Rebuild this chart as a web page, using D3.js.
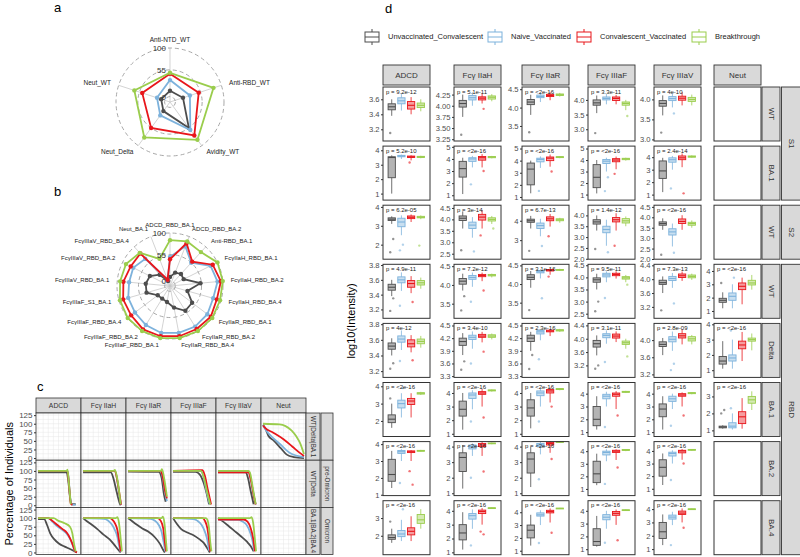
<!DOCTYPE html>
<html>
<head>
<meta charset="utf-8">
<script src="https://cdn.jsdelivr.net/npm/d3@7"></script>
<style>
body { margin: 0; background: #fff; }
svg { display: block; }
</style>
</head>
<body>
<script>
// ---------- data ----------
const groups = ["Unvaccinated_Convalescent", "Naive_Vaccinated", "Convalescent_Vaccinated", "Breakthrough"];
const groupColors = ["#4d4d4d", "#7db2dc", "#e8161b", "#9acd4c"];

// panel a radar
const aAxes = ["Anti-NTD_WT", "Anti-RBD_WT", "Avidity_WT", "Neut_Delta", "Neut_WT"];
const aValues = [
  [12, 17, 55, 12, 8],
  [34, 32, 60, 23, 17],
  [47, 51, 74, 55, 49],
  [49, 83, 85, 79, 66]
];

// panel b radar
const bAxes = ["ADCD_RBD_BA.1", "ADCD_RBD_BA.2", "Anti-RBD_BA.1", "FcγIIaH_RBD_BA.1", "FcγIIaH_RBD_BA.2",
  "FcγIIaH_RBD_BA.4", "FcγIIaR_RBD_BA.1", "FcγIIaR_RBD_BA.2", "FcγIIaR_RBD_BA.4", "FcγIIIaF_RBD_BA.1",
  "FcγIIIaF_RBD_BA.2", "FcγIIIaF_RBD_BA.4", "FcγIIIaF_S1_BA.1", "FcγIIIaV_RBD_BA.1", "FcγIIIaV_RBD_BA.2",
  "FcγIIIaV_RBD_BA.4", "Neut_BA.1"];
const bValues = [
  [8, 19, 23, 21, 53, 27, 47, 50, 35, 23, 20, 21, 40, 40, 36, 21, 0],
  [50, 78, 55, 84, 89, 83, 87, 89, 89, 89, 85, 81, 80, 75, 75, 66, 3],
  [45, 85, 58, 89, 96, 91, 96, 95, 96, 96, 96, 91, 91, 87, 81, 81, 3],
  [85, 89, 85, 100, 100, 98, 100, 100, 100, 100, 100, 100, 98, 94, 92, 83, 50]
];
const radarTicks = [0, 55, 100];

// panel c survival-type curves: [x %, percentage of individuals]
const cCols = ["ADCD", "Fcγ IIaH", "Fcγ IIaR", "Fcγ IIIaF", "Fcγ IIIaV", "Neut"];
const cRows = ["WT|Delta|BA.1", "WT|Delta", "BA.1|BA.2|BA.4"];
const cRowSets = ["", "pre-Omicron", "Omicron"];
const cYTicks = [0, 25, 50, 75, 100, 125];
const cCurves = [
  [null, null, null, null, null, [
    [[0,97],[5,88],[13,65],[25,52],[44,28],[58,10],[75,3],[100,0]],
    [[0,97],[5,85],[15,70],[44,38],[67,14],[100,3]],
    [[0,95],[5,88],[25,74],[50,55],[72,33],[90,15],[100,6]],
    [[0,100],[40,98],[55,93],[70,80],[82,62],[90,45],[100,12]]
  ]],
  [
    [
      [[0,96],[70,96],[74,70],[78,25],[82,3],[92,3]],
      [[0,100],[72,100],[76,60],[80,8],[84,2],[92,2]],
      [[0,100],[72,100],[76,55],[80,5],[84,1]],
      [[0,100],[70,100],[72,104],[75,70],[80,3]]
    ],
    [
      [[0,96],[68,96],[75,75],[82,40],[90,5],[92,0]],
      [[0,100],[78,100],[84,70],[90,20],[93,2]],
      [[0,100],[78,100],[84,70],[90,25],[93,2]],
      [[0,100],[75,100],[78,103],[84,75],[92,3]]
    ],
    [
      [[0,98],[75,97],[82,80],[88,30],[92,10]],
      [[0,100],[78,100],[84,85],[90,40],[95,12]],
      [[0,100],[78,100],[84,88],[90,45],[95,20]],
      [[0,100],[80,100],[83,105],[88,80],[95,25]]
    ],
    [
      [[0,97],[55,97],[65,90],[75,65],[82,35],[88,3]],
      [[0,100],[68,100],[75,80],[82,40],[90,2]],
      [[0,100],[72,102],[78,85],[85,45],[93,2]],
      [[0,100],[68,100],[75,82],[83,40],[91,2]]
    ],
    [
      [[0,96],[68,96],[73,80],[80,40],[87,3]],
      [[0,100],[74,100],[80,75],[87,30],[92,2]],
      [[0,96],[74,96],[80,75],[87,30],[92,2]],
      [[0,100],[74,100],[78,95],[85,50],[92,3]]
    ],
    null
  ],
  [
    [
      [[0,97],[15,97],[22,80],[30,55],[40,38],[50,27],[65,17],[78,10],[90,3],[95,0]],
      [[0,100],[25,100],[35,90],[45,78],[60,65],[70,55],[78,40],[85,20],[90,3]],
      [[0,100],[25,100],[35,92],[45,82],[60,68],[70,58],[78,42],[85,22],[90,5],[95,0]],
      [[0,100],[38,100],[50,92],[65,85],[78,75],[84,55],[88,25],[92,3]]
    ],
    [
      [[0,100],[5,95],[20,82],[35,68],[50,52],[65,38],[78,20],[88,5],[92,0]],
      [[0,100],[50,98],[60,94],[70,82],[78,65],[84,45],[88,20],[92,2]],
      [[0,100],[65,100],[72,95],[78,85],[84,65],[88,35],[92,3]],
      [[0,100],[80,100],[84,103],[88,85],[92,40],[95,3]]
    ],
    [
      [[0,100],[8,93],[20,82],[35,70],[50,60],[65,45],[78,25],[87,5],[90,0]],
      [[0,100],[55,98],[65,93],[75,80],[82,60],[87,30],[91,3]],
      [[0,100],[72,100],[80,92],[86,70],[90,30],[93,3]],
      [[0,100],[82,100],[85,104],[89,85],[93,30],[95,3]]
    ],
    [
      [[0,100],[10,82],[20,68],[35,58],[50,50],[65,38],[75,28],[85,10],[90,0]],
      [[0,100],[50,97],[60,92],[70,80],[78,60],[84,35],[88,5]],
      [[0,100],[72,100],[78,92],[84,70],[88,35],[91,3]],
      [[0,100],[80,100],[84,95],[88,70],[91,30],[94,3]]
    ],
    [
      [[0,100],[10,92],[25,78],[40,63],[55,48],[70,32],[80,18],[87,3]],
      [[0,96],[50,95],[60,90],[70,80],[78,60],[84,35],[88,5]],
      [[0,96],[62,96],[72,90],[80,70],[86,40],[90,3]],
      [[0,100],[78,100],[82,103],[86,85],[90,40],[93,3]]
    ],
    null
  ]
];

// panel d boxplots: [min, q1, median, q3, max] per group
const dCols = ["ADCD", "Fcγ IIaH", "Fcγ IIaR", "Fcγ IIIaF", "Fcγ IIIaV", "Neut"];
const dRows = ["WT", "BA.1", "WT", "WT", "Delta", "BA.1", "BA.2", "BA.4"];
const dSetLabels = ["S1", "S2", "RBD"];
const dSetRows = [[0, 1], [2, 2], [3, 7]];
const dPvals = [
  ["9.2e-12", "5.1e-11", "<2e-16", "3.3e-11", "4e-10", null],
  ["5.2e-10", "<2e-16", "<2e-16", "<2e-16", "2.4e-14", null],
  ["6.2e-05", "3e-14", "6.7e-13", "1.4e-12", "<2e-16", null],
  ["4.9e-11", "7.2e-12", "3.1e-16", "9.5e-11", "7.3e-13", "<2e-16"],
  ["4e-12", "3.4e-10", "2.3e-16", "3.1e-11", "2.8e-09", "<2e-16"],
  ["<2e-16", "<2e-16", "<2e-16", "<2e-16", "<2e-16", "<2e-16"],
  ["<2e-16", "<2e-16", "<2e-16", "<2e-16", "<2e-16", null],
  ["<2e-16", "<2e-16", "<2e-16", "<2e-16", "<2e-16", null]
];
const dDomains = [
  [[3.044,3.764],[3.21,4.42],[3.09,4.56],[2.6,4.44],[2.96,4.31],null],
  [[0.55,4.29],[0.6,5.06],[0.74,5.2],[0.52,5.21],[0.56,4.89],null],
  [[1.23,4.09],[2.26,4.62],[2.02,4.8],[1.98,4.47],[1.99,4.58],null],
  [[3.08,3.81],[3.11,4.55],[3.08,4.53],[2.31,4.54],[2.87,4.43],[0.45,4.5]],
  [[3.12,3.81],[3.27,4.55],[3.27,4.55],[2.84,4.46],[3.13,4.39],[0.53,4.06]],
  [[1.1,4.22],[0.8,4.77],[0.8,4.77],[0.66,4.87],[0.66,4.87],[0.64,3.82]],
  [[0.95,4.15],[0.85,4.32],[0.85,4.32],[0.47,4.76],[0.46,4.74],null],
  [[0.93,3.98],[0.83,4.73],[0.69,4.9],[0.57,4.79],[0.58,4.63],null]
];
const dTicks = [
  [[3.2,3.4,3.6],[3.25,3.5,3.75,4.0,4.25],[3.5,4.0,4.5],[3.0,3.5,4.0],[3.0,3.5,4.0],null],
  [[1,2,3,4],[1,2,3,4,5],[1,2,3,4,5],[1,2,3,4,5],[1,2,3,4],null],
  [[2,3,4],[2.5,3.0,3.5,4.0,4.5],[3,4],[2.0,2.5,3.0,3.5,4.0],[2.0,2.5,3.0,3.5,4.0,4.5],null],
  [[3.2,3.4,3.6,3.8],[3.5,4.0,4.5],[3.5,4.0,4.5],[2.5,3.0,3.5,4.0,4.5],[3.2,3.6,4.0,4.4],[1,2,3,4]],
  [[3.2,3.4,3.6,3.8],[3.3,3.6,3.9,4.2,4.5],[3.3,3.6,3.9,4.2,4.5],[3.2,3.6,4.0,4.4],[3.2,3.6,4.0],[1,2,3,4]],
  [[2,3,4],[1,2,3,4],[1,2,3,4],[1,2,3,4],[1,2,3,4],[1,2,3]],
  [[1,2,3,4],[1,2,3,4],[1,2,3,4],[1,2,3,4],[1,2,3,4],null],
  [[2,3],[1,2,3,4],[1,2,3,4],[1,2,3,4],[1,2,3,4],null]
];
const dBoxes = [
  [
    [[3.38,3.46,3.5,3.54,3.6],[3.45,3.54,3.58,3.62,3.68],[3.4,3.47,3.52,3.57,3.63],[3.44,3.49,3.52,3.55,3.6]],
    [[3.75,3.97,4.05,4.12,4.25],[4.0,4.13,4.18,4.23,4.3],[4.05,4.13,4.17,4.2,4.27],[4.1,4.15,4.19,4.22,4.26]],
    [[3.8,4.08,4.15,4.22,4.35],[4.15,4.27,4.3,4.34,4.4],[4.2,4.3,4.33,4.36,4.42],[4.3,4.33,4.35,4.37,4.4]],
    [[3.55,3.82,3.9,4.0,4.15],[3.85,4.0,4.05,4.1,4.2],[3.85,3.98,4.05,4.1,4.17],[3.65,3.82,3.88,3.93,4.0]],
    [[3.6,3.83,3.9,3.97,4.1],[3.8,3.97,4.02,4.07,4.15],[3.85,3.98,4.03,4.08,4.18],[3.85,3.95,4.0,4.05,4.12]],
    null
  ],
  [
    [[1.0,2.1,3.5,3.55,3.65],[3.4,3.55,3.6,3.65,3.7],[3.3,3.5,3.55,3.6,3.65],[3.45,3.5,3.55,3.58,3.62]],
    [[1.1,2.5,3.2,3.8,4.1],[3.3,3.8,4.0,4.1,4.25],[3.3,3.9,4.1,4.2,4.4],[4.05,4.1,4.15,4.2,4.25]],
    [[1.3,2.0,3.3,3.8,4.0],[3.4,3.9,4.1,4.2,4.35],[3.5,4.0,4.2,4.3,4.5],[4.2,4.25,4.3,4.33,4.38]],
    [[1.1,1.6,2.5,3.6,4.0],[3.0,3.7,3.9,4.05,4.2],[3.2,3.85,4.0,4.12,4.3],[3.95,4.03,4.1,4.15,4.2]],
    [[1.2,2.3,2.9,3.7,3.95],[3.0,3.6,3.8,3.95,4.1],[3.2,3.8,3.95,4.1,4.3],[3.95,4.0,4.05,4.1,4.15]],
    null
  ],
  [
    [[3.1,3.28,3.35,3.42,3.5],[2.5,2.95,3.2,3.4,3.55],[3.2,3.38,3.45,3.52,3.6],[3.35,3.42,3.45,3.5,3.55]],
    [[3.6,3.95,4.05,4.15,4.35],[3.2,3.6,3.75,3.88,4.1],[3.6,3.97,4.1,4.22,4.4],[3.8,3.93,4.0,4.07,4.15]],
    [[3.6,3.92,4.0,4.08,4.25],[3.2,3.6,3.75,3.88,4.1],[3.7,4.0,4.1,4.2,4.35],[3.9,4.0,4.05,4.1,4.15]],
    [[3.3,3.6,3.7,3.8,4.0],[2.6,3.2,3.35,3.5,3.8],[3.3,3.7,3.8,3.9,4.1],[3.5,3.65,3.75,3.85,3.95]],
    [[3.4,3.62,3.7,3.78,3.95],[2.6,3.15,3.3,3.45,3.7],[3.4,3.7,3.8,3.92,4.1],[3.5,3.62,3.7,3.76,3.85]],
    null
  ],
  [
    [[3.38,3.46,3.5,3.54,3.6],[3.45,3.56,3.6,3.64,3.7],[3.42,3.5,3.55,3.59,3.65],[3.48,3.53,3.56,3.59,3.63]],
    [[3.85,4.02,4.1,4.17,4.3],[3.95,4.15,4.2,4.25,4.33],[4.1,4.22,4.25,4.28,4.33],[4.2,4.24,4.26,4.28,4.3]],
    [[3.9,4.12,4.18,4.25,4.35],[4.15,4.3,4.33,4.36,4.4],[4.25,4.35,4.37,4.39,4.42],[4.35,4.37,4.38,4.39,4.41]],
    [[3.5,3.8,3.9,3.98,4.15],[3.8,4.02,4.1,4.17,4.25],[3.95,4.07,4.12,4.17,4.25],[3.8,3.93,3.98,4.03,4.1]],
    [[3.6,3.85,3.9,3.97,4.08],[3.75,3.96,4.02,4.08,4.18],[3.95,4.05,4.1,4.15,4.22],[3.98,4.04,4.08,4.12,4.16]],
    [[1.2,1.65,1.8,1.95,2.4],[1.2,1.8,2.1,2.35,3.0],[1.5,2.6,2.85,3.1,3.5],[2.6,2.95,3.1,3.3,3.7]]
  ],
  [
    [[3.4,3.48,3.52,3.56,3.62],[3.47,3.57,3.61,3.65,3.72],[3.44,3.51,3.55,3.6,3.66],[3.5,3.55,3.58,3.61,3.65]],
    [[3.8,4.03,4.12,4.2,4.32],[3.95,4.17,4.22,4.27,4.36],[4.1,4.22,4.25,4.29,4.35],[4.17,4.22,4.25,4.28,4.31]],
    [[3.9,4.12,4.2,4.27,4.35],[4.15,4.3,4.35,4.38,4.42],[4.25,4.35,4.37,4.39,4.42],[4.35,4.37,4.39,4.4,4.42]],
    [[3.5,3.75,3.85,3.95,4.1],[3.85,4.03,4.1,4.15,4.25],[3.9,4.02,4.08,4.14,4.22],[3.7,3.83,3.88,3.93,4.0]],
    [[3.65,3.85,3.9,3.96,4.05],[3.75,3.96,4.02,4.08,4.2],[3.9,4.05,4.1,4.15,4.25],[3.9,3.98,4.03,4.08,4.12]],
    [[1.1,1.4,1.6,1.9,2.9],[1.1,1.6,1.8,2.0,3.0],[1.6,2.4,2.65,2.9,3.5],[2.3,2.9,3.0,3.1,3.4]]
  ],
  [
    [[1.6,1.9,2.1,2.35,3.0],[2.2,2.75,3.0,3.2,3.6],[2.2,2.95,3.15,3.3,3.6],[3.5,3.55,3.6,3.63,3.68]],
    [[1.3,2.3,2.8,3.4,4.0],[2.8,3.6,3.85,4.0,4.2],[3.0,3.9,4.0,4.1,4.3],[4.1,4.15,4.2,4.22,4.26]],
    [[1.4,2.3,2.9,3.5,4.0],[3.0,3.8,4.0,4.15,4.3],[3.3,4.0,4.15,4.25,4.4],[4.2,4.25,4.3,4.32,4.36]],
    [[1.2,1.5,2.0,3.0,3.8],[3.0,3.6,3.8,3.95,4.15],[2.8,3.8,3.95,4.05,4.2],[4.05,4.1,4.15,4.18,4.22]],
    [[1.2,2.2,2.8,3.2,3.8],[2.8,3.4,3.6,3.8,4.0],[3.0,3.8,3.9,4.0,4.1],[3.95,4.0,4.05,4.08,4.12]],
    [[1.1,1.15,1.2,1.25,1.3],[1.05,1.15,1.25,1.45,2.0],[1.1,1.4,1.8,2.1,2.9],[2.2,2.6,2.8,3.0,3.3]]
  ],
  [
    [[1.4,1.8,2.2,3.1,3.6],[3.0,3.45,3.55,3.62,3.7],[3.0,3.5,3.55,3.6,3.65],[3.55,3.58,3.6,3.63,3.66]],
    [[1.3,2.4,3.3,3.6,4.1],[3.4,3.85,4.0,4.1,4.2],[3.4,4.0,4.1,4.2,4.3],[4.15,4.18,4.2,4.23,4.26]],
    [[1.4,2.3,3.2,3.6,4.0],[3.5,4.0,4.1,4.2,4.3],[3.6,4.1,4.2,4.27,4.35],[4.25,4.28,4.3,4.32,4.35]],
    [[1.3,1.5,2.2,3.2,3.8],[3.2,3.7,3.9,4.0,4.15],[3.3,3.9,4.0,4.07,4.15],[4.0,4.05,4.1,4.13,4.16]],
    [[1.3,2.0,2.7,3.3,3.8],[3.0,3.6,3.8,3.9,4.05],[3.3,3.85,4.0,4.05,4.15],[4.0,4.05,4.1,4.12,4.15]],
    null
  ],
  [
    [[1.6,1.8,1.9,2.05,2.4],[1.7,1.95,2.1,2.3,2.9],[1.7,2.05,2.25,2.45,3.1],[2.4,2.7,2.9,3.2,3.5]],
    [[1.2,1.9,2.4,3.0,3.9],[2.7,3.4,3.65,3.8,4.1],[3.0,3.8,3.95,4.05,4.2],[4.15,4.18,4.2,4.22,4.25]],
    [[1.4,2.0,2.6,3.0,3.8],[3.0,3.7,3.8,3.95,4.15],[3.2,3.95,4.05,4.15,4.3],[4.25,4.28,4.3,4.32,4.34]],
    [[1.2,1.3,1.6,2.6,3.6],[2.6,3.3,3.5,3.7,4.0],[2.9,3.65,3.8,3.95,4.1],[4.0,4.03,4.05,4.08,4.12]],
    [[1.3,1.8,2.3,3.0,3.6],[2.8,3.25,3.4,3.55,3.8],[3.0,3.6,3.7,3.85,4.05],[3.95,3.98,4.0,4.02,4.05]],
    null
  ]
];
// outlying points: [group index, value]
const dOutliers = [
  [[[0,3.15]], [[0,3.35],[2,3.93]], [[0,3.33]], [[0,2.87],[3,3.45]], [[0,3.17],[1,3.65]], []],
  [[[2,3.15]], [[1,1.9],[2,3.0]], [[1,1.5],[2,3.1]], [[1,1.3],[1,2.5],[2,2.8]], [[1,1.5],[2,1.1]], []],
  [[[0,1.6],[0,2.3],[1,1.7],[1,2.0],[3,1.95]], [[0,2.65],[1,2.6],[2,3.3],[3,3.6]], [[0,2.45],[1,2.7],[2,3.2]], [[0,2.45],[1,2.3],[2,2.6]], [[0,2.2],[1,2.3]], []],
  [[[0,3.18],[0,3.35],[1,3.25],[2,3.3]], [[0,3.32],[0,3.7],[1,3.55],[2,3.85]], [[0,3.3],[1,3.62],[2,4.2]], [[0,2.6],[0,3.0],[1,3.15],[3,3.7]], [[0,3.1],[1,3.3]], [[0,3.1],[1,3.5]]],
  [[[0,3.23],[0,3.3],[1,3.33],[2,3.34]], [[0,3.45],[0,3.65],[1,3.6],[2,3.88]], [[0,3.47],[0,3.8],[1,3.7]], [[0,3.1],[0,3.2],[1,3.3],[3,3.47]], [[1,3.3],[1,3.45]], [[1,3.6]]],
  [[[0,3.3],[1,3.9]], [[1,1.9],[2,2.2]], [[1,1.9],[2,3.0]], [[1,1.4],[2,2.3]], [[1,1.5],[2,2.3]], [[0,2.0],[0,2.2],[1,2.3]]],
  [[[1,1.7],[2,1.6],[2,2.4]], [[1,2.0],[2,2.4]], [[1,1.9],[2,3.2]], [[1,1.4],[2,2.7]], [[1,1.7],[2,3.0]], []],
  [[[0,2.8],[1,3.5]], [[1,1.5],[2,2.3],[2,2.5]], [[1,1.6],[2,2.4]], [[1,1.5],[2,1.7]], [[1,1.3],[2,2.6]], []]
];

// ---------- drawing ----------
const font = "'Liberation Sans', Arial, sans-serif";
const svg = d3.select("body").append("svg")
  .attr("width", 800).attr("height", 557)
  .attr("xmlns", "http://www.w3.org/2000/svg")
  .style("font-family", font);

const panelLabel = (txt, x, y) => svg.append("text").attr("x", x).attr("y", y)
  .attr("font-size", 13).attr("fill", "#000").text(txt);
panelLabel("a", 54, 12);
panelLabel("b", 54, 196);
panelLabel("c", 37, 391);
panelLabel("d", 385, 13);

// radar charts (ggradar style)
const radarCentre = -(radarTicks[2] - radarTicks[0]) / 9;
function drawRadar(cx, cy, R, axes, values, fs) {
  const g = svg.append("g").attr("transform", `translate(${cx},${cy})`);
  const r = d3.scaleLinear().domain([radarCentre, radarTicks[2]]).range([0, R]);
  const ang = i => i * 2 * Math.PI / axes.length;
  axes.forEach((name, i) => {
    g.append("line")
      .attr("x1", 0).attr("y1", 0)
      .attr("x2", Math.sin(ang(i)) * R).attr("y2", -Math.cos(ang(i)) * R)
      .attr("stroke", "#c8c8c8").attr("stroke-width", 0.8);
  });
  radarTicks.forEach(t => {
    g.append("circle").attr("r", r(t))
      .attr("fill", "none").attr("stroke", "#a8a8a8")
      .attr("stroke-width", 1).attr("stroke-dasharray", "4,3");
  });
  values.forEach((vals, gi) => {
    g.append("path").datum(vals)
      .attr("d", d3.lineRadial().angle((d, i) => ang(i)).radius(d => r(d)).curve(d3.curveLinearClosed))
      .attr("fill", "none").attr("stroke", groupColors[gi]).attr("stroke-width", 1.8);
    g.selectAll(null).data(vals).join("circle")
      .attr("cx", (d, i) => Math.sin(ang(i)) * r(d))
      .attr("cy", (d, i) => -Math.cos(ang(i)) * r(d))
      .attr("r", 2.2).attr("fill", groupColors[gi]);
  });
  radarTicks.forEach(t => {
    g.append("text").attr("x", -4).attr("y", -r(t) + 1)
      .attr("text-anchor", "end").attr("dominant-baseline", "middle")
      .attr("font-size", 8).attr("fill", "#333").text(t);
  });
  axes.forEach((name, i) => {
    const lx = Math.sin(ang(i)) * R * 1.15, ly = -Math.cos(ang(i)) * R * 1.15;
    g.append("text").attr("x", lx).attr("y", ly)
      .attr("text-anchor", lx > 4 ? "start" : (lx < -4 ? "end" : "middle"))
      .attr("dominant-baseline", "middle")
      .attr("font-size", fs).attr("fill", "#222").text(name);
  });
}
drawRadar(170, 102, 54, aAxes, aValues, 6.5);
drawRadar(170, 286, 53, bAxes, bValues, 6);

// panel c
const cLeft = 36, cColW = 45, cStripTop = 398, cStripH = 15, cTop = 413, cRowH = 47.2;
const cx = d3.scaleLinear().domain([-5, 105]).range([0, cColW]);
const cy = d3.scaleLinear().domain([-6.25, 131.25]).range([cRowH, 0]);
const stripFill = "#d9d9d9", frame = "#333";

cCols.forEach((name, ci) => {
  const x0 = cLeft + ci * cColW;
  svg.append("rect").attr("x", x0).attr("y", cStripTop).attr("width", cColW).attr("height", cStripH)
    .attr("fill", stripFill).attr("stroke", frame).attr("stroke-width", 0.8);
  svg.append("text").attr("x", x0 + cColW / 2).attr("y", cStripTop + cStripH / 2 + 0.5)
    .attr("text-anchor", "middle").attr("dominant-baseline", "middle")
    .attr("font-size", 6.8).attr("fill", "#333").text(name);
});

cRows.forEach((rowName, ri) => {
  const y0 = cTop + ri * cRowH;
  cCols.forEach((colName, ci) => {
    const x0 = cLeft + ci * cColW;
    const pg = svg.append("g").attr("transform", `translate(${x0},${y0})`);
    pg.append("rect").attr("width", cColW).attr("height", cRowH).attr("fill", "#fff");
    d3.range(0, 126, 12.5).forEach(v => {
      pg.append("line").attr("x1", 0).attr("x2", cColW).attr("y1", cy(v)).attr("y2", cy(v))
        .attr("stroke", "#e6e6e6").attr("stroke-width", 0.5);
    });
    d3.range(0, 101, 12.5).forEach(v => {
      pg.append("line").attr("y1", 0).attr("y2", cRowH).attr("x1", cx(v)).attr("x2", cx(v))
        .attr("stroke", "#e6e6e6").attr("stroke-width", 0.5);
    });
    const curves = cCurves[ri][ci];
    if (curves) {
      curves.forEach((pts, gi) => {
        pg.append("path").datum(pts)
          .attr("d", d3.line().x(d => cx(d[0])).y(d => cy(d[1])).curve(d3.curveMonotoneX))
          .attr("fill", "none").attr("stroke", groupColors[gi]).attr("stroke-width", 1.8);
      });
    }
    pg.append("rect").attr("width", cColW).attr("height", cRowH)
      .attr("fill", "none").attr("stroke", frame).attr("stroke-width", 0.8);
  });
  // y axis
  const ax = svg.append("g").attr("transform", `translate(${cLeft},${y0})`)
    .call(d3.axisLeft(cy).tickValues(cYTicks).tickSize(2).tickPadding(1.5));
  ax.select(".domain").remove();
  ax.selectAll("line").attr("stroke", "#333");
  ax.selectAll("text").attr("font-size", 8).attr("fill", "#4d4d4d").attr("font-family", font);
  // right strips
  const sx = cLeft + cCols.length * cColW;
  svg.append("rect").attr("x", sx).attr("y", y0).attr("width", 14).attr("height", cRowH)
    .attr("fill", stripFill).attr("stroke", frame).attr("stroke-width", 0.8);
  svg.append("text").attr("transform", `translate(${sx + 7},${y0 + cRowH / 2}) rotate(90)`)
    .attr("text-anchor", "middle").attr("dominant-baseline", "middle")
    .attr("font-size", 6.3).attr("fill", "#333").text(rowName);
  svg.append("rect").attr("x", sx + 15).attr("y", y0).attr("width", 12).attr("height", cRowH)
    .attr("fill", stripFill).attr("stroke", frame).attr("stroke-width", 0.8);
  svg.append("text").attr("transform", `translate(${sx + 21},${y0 + cRowH / 2}) rotate(90)`)
    .attr("text-anchor", "middle").attr("dominant-baseline", "middle")
    .attr("font-size", 6.3).attr("fill", "#333").text(cRowSets[ri]);
});
svg.append("text").attr("transform", `translate(10,${cTop + 1.5 * cRowH}) rotate(-90)`)
  .attr("text-anchor", "middle").attr("dominant-baseline", "middle")
  .attr("font-size", 11).attr("fill", "#000").text("Percentage of Individuals");

// panel d legend
const legX = [365, 488, 577, 692];
groups.forEach((name, gi) => {
  const lg = svg.append("g").attr("transform", `translate(${legX[gi]},37)`);
  lg.append("line").attr("x1", 7).attr("x2", 7).attr("y1", -8).attr("y2", 8)
    .attr("stroke", groupColors[gi]).attr("stroke-width", 1);
  lg.append("rect").attr("x", 0).attr("y", -5).attr("width", 14).attr("height", 10)
    .attr("fill", "#fff").attr("stroke", groupColors[gi]).attr("stroke-width", 1);
  lg.append("line").attr("x1", 0).attr("x2", 14).attr("y1", 0).attr("y2", 0)
    .attr("stroke", groupColors[gi]).attr("stroke-width", 1);
  lg.append("text").attr("x", 23).attr("y", 0).attr("dominant-baseline", "middle")
    .attr("font-size", 7.5).attr("fill", "#222").text(name);
});

// panel d facets
const dColX = [383, 454, 522, 588, 654, 714], dColW = 47;
const dTop = 87, dRowStep = 59.1, dRowH = 54;
const gx = d3.scaleLinear().domain([0.1, 4.95]).range([0, dColW]);
const bw = gx(1.75) - gx(1);

dCols.forEach((name, ci) => {
  svg.append("rect").attr("x", dColX[ci]).attr("y", 65).attr("width", dColW).attr("height", 20)
    .attr("fill", stripFill).attr("stroke", frame).attr("stroke-width", 0.9);
  svg.append("text").attr("x", dColX[ci] + dColW / 2).attr("y", 75.5)
    .attr("text-anchor", "middle").attr("dominant-baseline", "middle")
    .attr("font-size", 8).attr("fill", "#333").text(name);
});

dRows.forEach((rowName, ri) => {
  const y0 = dTop + ri * dRowStep;
  dCols.forEach((colName, ci) => {
    const pg = svg.append("g").attr("transform", `translate(${dColX[ci]},${y0})`);
    pg.append("rect").attr("width", dColW).attr("height", dRowH).attr("fill", "#fff");
    const boxes = dBoxes[ri][ci];
    if (boxes) {
      const y = d3.scaleLinear().domain(dDomains[ri][ci]).range([dRowH, 0]);
      const ticks = dTicks[ri][ci];
      const dec = d3.max(ticks, t => (String(t).split(".")[1] || "").length);
      const ax = pg.append("g")
        .call(d3.axisLeft(y).tickValues(ticks).tickFormat(d3.format(`.${dec}f`)).tickSize(2).tickPadding(1.5));
      ax.select(".domain").remove();
      ax.selectAll("line").attr("stroke", "#333");
      ax.selectAll("text").attr("font-size", 7.6).attr("fill", "#4d4d4d").attr("font-family", font);

      boxes.forEach((s, gi) => {
        const xc = gx(gi + 1), col = groupColors[gi];
        pg.append("line").attr("x1", xc).attr("x2", xc).attr("y1", y(s[0])).attr("y2", y(s[1]))
          .attr("stroke", col).attr("stroke-width", 0.8);
        pg.append("line").attr("x1", xc).attr("x2", xc).attr("y1", y(s[3])).attr("y2", y(s[4]))
          .attr("stroke", col).attr("stroke-width", 0.8);
        pg.append("rect").attr("x", xc - bw / 2).attr("y", y(s[3]))
          .attr("width", bw).attr("height", Math.max(0.8, y(s[1]) - y(s[3])))
          .attr("fill", col).attr("fill-opacity", 0.42)
          .attr("stroke", col).attr("stroke-width", 0.9);
        pg.append("line").attr("x1", xc - bw / 2).attr("x2", xc + bw / 2).attr("y1", y(s[2])).attr("y2", y(s[2]))
          .attr("stroke", col).attr("stroke-width", 1.1);
      });
      pg.selectAll(null).data(dOutliers[ri][ci]).join("circle")
        .attr("cx", (d, i) => gx(d[0] + 1) + (i % 2 ? 1.5 : -1.5))
        .attr("cy", d => y(d[1]))
        .attr("r", 1.2).attr("fill", d => groupColors[d[0]]).attr("fill-opacity", 0.6);

      pg.append("text").attr("x", 3).attr("y", 6.5)
        .attr("font-size", 6).attr("fill", "#222").text("p = " + dPvals[ri][ci]);
    }
    pg.append("rect").attr("width", dColW).attr("height", dRowH)
      .attr("fill", "none").attr("stroke", frame).attr("stroke-width", 1);
  });
  // inner row strip
  svg.append("rect").attr("x", 762).attr("y", y0).attr("width", 18).attr("height", dRowH)
    .attr("fill", stripFill).attr("stroke", frame).attr("stroke-width", 0.9);
  svg.append("text").attr("transform", `translate(771,${y0 + dRowH / 2}) rotate(90)`)
    .attr("text-anchor", "middle").attr("dominant-baseline", "middle")
    .attr("font-size", 8).attr("fill", "#333").text(rowName);
});

dSetLabels.forEach((name, si) => {
  const yA = dTop + dSetRows[si][0] * dRowStep;
  const yB = dTop + dSetRows[si][1] * dRowStep + dRowH;
  svg.append("rect").attr("x", 781.5).attr("y", yA).attr("width", 20).attr("height", yB - yA)
    .attr("fill", stripFill).attr("stroke", frame).attr("stroke-width", 0.9);
  svg.append("text").attr("transform", `translate(791,${(yA + yB) / 2}) rotate(90)`)
    .attr("text-anchor", "middle").attr("dominant-baseline", "middle")
    .attr("font-size", 8).attr("fill", "#333").text(name);
});

svg.append("text").attr("transform", `translate(352,${dTop + (7 * dRowStep + dRowH) / 2}) rotate(-90)`)
  .attr("text-anchor", "middle").attr("dominant-baseline", "middle")
  .attr("font-size", 11).attr("fill", "#000").text("log10(Intensity)");
</script>
</body>
</html>
